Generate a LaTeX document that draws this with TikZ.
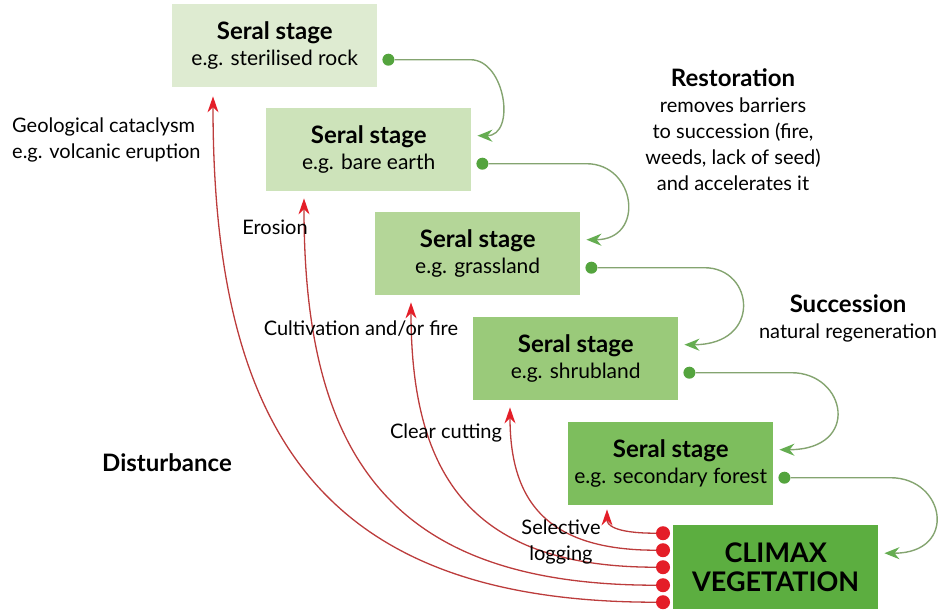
\documentclass[tikz,border=0pt]{standalone}
\usepackage{fontspec}
\setmainfont{Lato}
\usetikzlibrary{arrows.meta,calc}

\definecolor{stageA}{RGB}{222,235,209}
\definecolor{stageB}{RGB}{205,227,186}
\definecolor{stageC}{RGB}{180,214,152}
\definecolor{stageD}{RGB}{154,202,122}
\definecolor{stageE}{RGB}{125,190,93}
\definecolor{stageF}{RGB}{92,174,64}
\definecolor{gline}{RGB}{132,164,112}
\definecolor{gdotc}{RGB}{84,164,62}
\definecolor{rline}{RGB}{188,60,60}
\definecolor{rdotc}{RGB}{228,30,40}

\def\hd#1{{\fontsize{24}{26}\selectfont\bfseries #1}}

\tikzset{
	seral/.style={rectangle, anchor=north west, minimum width=205pt, minimum height=83pt, inner sep=0pt, align=center, font=\fontsize{21}{26}\selectfont},
	txt/.style={inner sep=0pt, align=center, font=\fontsize{20}{26}\selectfont},
	gdot/.style={circle, fill=gdotc, inner sep=0pt, minimum size=12pt},
	rdot/.style={circle, fill=rdotc, inner sep=0pt, minimum size=14pt},
	succ/.style={draw=gline, line width=1.4pt, -{Stealth[length=15pt,width=12pt,color=gdotc!90]}},
	dist/.style={draw=rline, line width=1.3pt, -{Stealth[length=16pt,width=11pt,color=rdotc]}}
}

\begin{document}
\begin{tikzpicture}[x=1pt, y=-1pt]
			%%%%% START %%%%%
			\useasboundingbox (0,0) rectangle (952,611);
			
			\node[seral, fill=stageA] (s1) at (172,4) {\hd{Seral stage}\\e.g. sterilised rock};
			\node[seral, fill=stageB] (s2) at (266,108) {\hd{Seral stage}\\e.g. bare earth};
			\node[seral, fill=stageC] (s3) at (375,212) {\hd{Seral stage}\\e.g. grassland};
			\node[seral, fill=stageD] (s4) at (473,317) {\hd{Seral stage}\\e.g. shrubland};
			\node[seral, fill=stageE] (s5) at (568,422) {\hd{Seral stage}\\e.g. secondary forest};
			\node[seral, fill=stageF, minimum height=84pt, font=\fontsize{27}{29}\selectfont\bfseries] (climax) at (673,525) {CLIMAX\\VEGETATION};
			
			% succession dots
			\node[gdot] (g1) at ([xshift=11pt,yshift=-14pt]s1.east) {};
			\node[gdot] (g2) at ([xshift=11pt,yshift=-14pt]s2.east) {};
			\node[gdot] (g3) at ([xshift=11pt,yshift=-14pt]s3.east) {};
			\node[gdot] (g4) at ([xshift=11pt,yshift=-14pt]s4.east) {};
			\node[gdot] (g5) at ([xshift=11pt,yshift=-14pt]s5.east) {};
			
			\draw[succ] (g1) -- ++(82,0) .. controls +(35,0) and +(39,0) .. ([xshift=6pt,yshift=14pt]s2.east);
			\draw[succ] (g2) -- ++(104,0) .. controls +(50,0) and +(59,0) .. ([xshift=6pt,yshift=14pt]s3.east);
			\draw[succ] (g3) -- ++(113,0) .. controls +(50,0) and +(78,0) .. ([xshift=6pt,yshift=14pt]s4.east);
			\draw[succ] (g4) -- ++(102,0) .. controls +(55,0) and +(82,0) .. ([xshift=6pt,yshift=14pt]s5.east);
			\draw[succ] (g5) -- ++(106,0) .. controls +(55,0) and +(74,0) .. ([xshift=6pt,yshift=14pt]climax.east);
			
			% disturbance dots
			\node[rdot] (r1) at ([xshift=-10pt,yshift=34pt]climax.west) {};
			\node[rdot] (r2) at ([xshift=-10pt,yshift=17pt]climax.west) {};
			\node[rdot] (r3) at ([xshift=-10pt]climax.west) {};
			\node[rdot] (r4) at ([xshift=-10pt,yshift=-18pt]climax.west) {};
			\node[rdot] (r5) at ([xshift=-10pt,yshift=-35pt]climax.west) {};
			
			\draw[dist] (r1) .. controls +(-50,0) and +(0,15) .. ([xshift=39pt,yshift=-4pt]s5.south west);
			\draw[dist] (r2) .. controls +(-116,0) and +(0,94) .. ([xshift=37pt,yshift=-7pt]s4.south west);
			\draw[dist] (r3) .. controls +(-190,0) and +(0,175) .. ([xshift=36pt,yshift=-7pt]s3.south west);
			\draw[dist] (r4) .. controls +(-273,0) and +(0,257) .. ([xshift=38pt,yshift=-7pt]s2.south west);
			\draw[dist] (r5) .. controls +(-341,0) and +(0,336) .. ([xshift=41pt,yshift=-9pt]s1.south west);
			
			% labels
			\node[txt, align=left, anchor=west] (geo) at (12,140) {Geological cataclysm\\e.g. volcanic eruption};
			\node[txt] (disturb) at (167,463) {\hd{Disturbance}};
			\node[txt] (erosion) at (275,227) {Erosion};
			\node[txt] (cultiv) at (361,329) {Cultivation and/or fire};
			\node[txt] (clear) at (446,433) {Clear cutting};
			\node[txt] (select) at (561,542) {Selective\\logging};
			\node[txt] (restore) at (733,130) {\hd{Restoration}\\removes barriers\\to succession (fire,\\weeds, lack of seed)\\and accelerates it};
			\node[txt] (success) at (848,318) {\hd{Succession}\\natural regeneration};
			
			%%%%% END %%%%%
		\end{tikzpicture}
\end{document}
